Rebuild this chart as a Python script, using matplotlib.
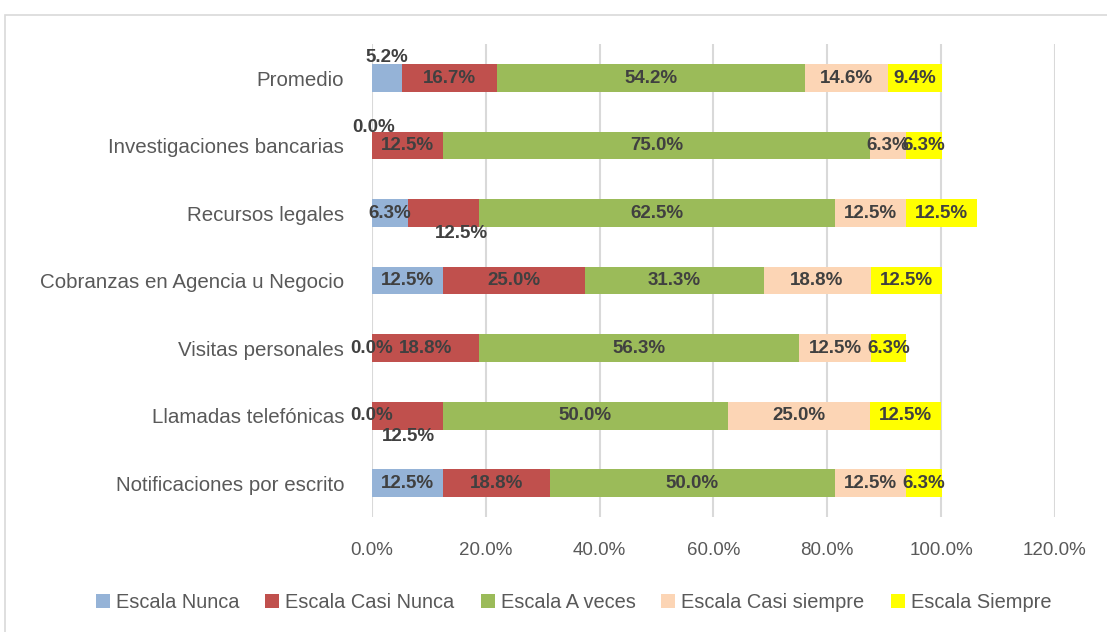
import numpy as np
import matplotlib
matplotlib.use("Agg")
from matplotlib import pyplot as plt
from matplotlib.patches import Rectangle
from matplotlib.ticker import FuncFormatter

# categories bottom -> top
categories = ["Notificaciones por escrito", "Llamadas telefónicas", "Visitas personales",
              "Cobranzas en Agencia u Negocio", "Recursos legales",
              "Investigaciones bancarias", "Promedio"]
series_names = ["Escala Nunca", "Escala Casi Nunca", "Escala A veces",
                "Escala Casi siempre", "Escala Siempre"]
nunca = [12.5, 0.0, 0.0, 12.5, 6.3, 0.0, 5.2]
casi_nunca = [18.8, 12.5, 18.8, 25.0, 12.5, 12.5, 16.7]
a_veces = [50.0, 50.0, 56.3, 31.3, 62.5, 75.0, 54.2]
casi_siempre = [12.5, 25.0, 12.5, 18.8, 12.5, 6.3, 14.6]
siempre = [6.3, 12.5, 6.3, 12.5, 12.5, 6.3, 9.4]
x_ticks = [0, 20, 40, 60, 80, 100, 120]

colors = ["#95B3D7", "#C0504D", "#9BBB59", "#FCD5B5", "#FFFF00"]
# manually moved labels (series index, row index) -> offset in points
label_offsets = {(0, 6): (0, 15), (0, 5): (1, 13), (1, 4): (13, -15),
                 (1, 1): (1, -15)}

plt.rcParams["font.family"] = ["Liberation Sans", "DejaVu Sans"]

fig = plt.figure(figsize=(11.07, 6.32), dpi=100)
ax = fig.add_axes([0.336, 0.182, 0.617, 0.748])

data = np.array([nunca, casi_nunca, a_veces, casi_siempre, siempre])
y = np.arange(len(categories))
left = np.zeros(len(categories))
for i, (name, vals) in enumerate(zip(series_names, data)):
    ax.barh(y, vals, left=left, height=0.41, color=colors[i], label=name, zorder=2)
    for j, v in enumerate(vals):
        cx = left[j] + v / 2
        dx, dy = label_offsets.get((i, j), (0, 0))
        ax.annotate(f"{v:.1f}%", (cx, y[j]), xytext=(dx, dy), textcoords="offset points",
                    ha="center", va="center", fontsize=13.5, fontweight="bold",
                    color="#404040", zorder=3)
    left += vals

ax.set_xlim(0, 120)
ax.set_ylim(-0.5, len(categories) - 0.5)
ax.set_xticks(x_ticks)
ax.xaxis.set_major_formatter(FuncFormatter(lambda v, p: f"{v:.1f}%"))
ax.set_yticks(y)
ax.set_yticklabels(categories)
ax.tick_params(axis="x", length=0, labelsize=13.5, colors="#595959", pad=18)
ax.tick_params(axis="y", length=0, labelsize=14.8, colors="#595959", pad=20)
ax.grid(axis="x", color="#D9D9D9", linewidth=1.5, zorder=0)
for s in ax.spines.values():
    s.set_visible(False)

ax.legend(loc="center", bbox_to_anchor=(0.518, 0.046), bbox_transform=fig.transFigure,
          ncol=5, frameon=False, fontsize=14.4, handlelength=0.7, handleheight=0.7,
          handletextpad=0.3, columnspacing=1.3, labelcolor="#595959")

fig.patches.append(Rectangle((5 / 1107, -0.1), 1.2, 0.1 + 1 - 15 / 632,
                             transform=fig.transFigure, fill=False,
                             edgecolor="#D9D9D9", linewidth=1.2))

fig.savefig("out.png", dpi=100)
